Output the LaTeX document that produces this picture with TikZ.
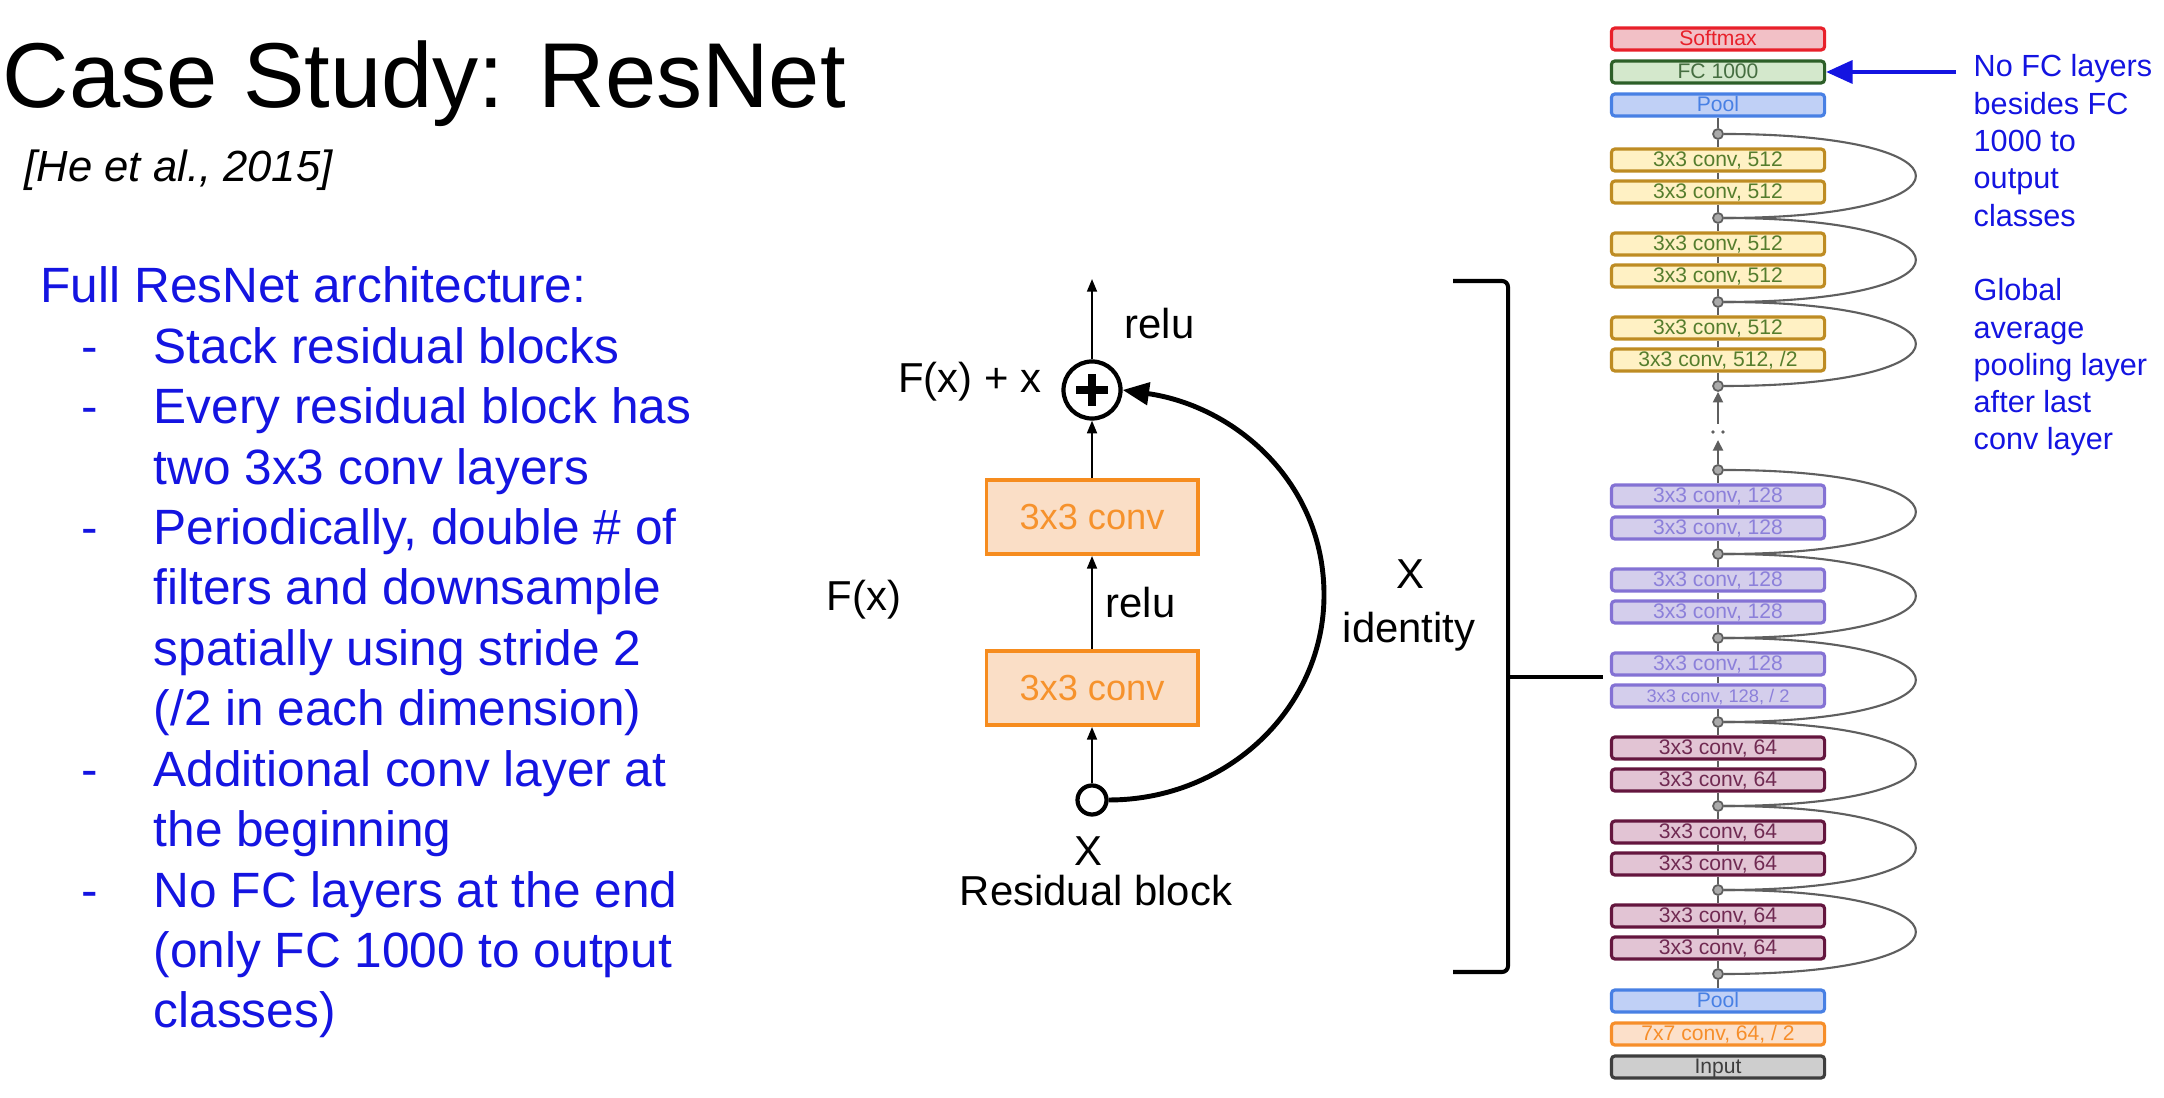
\documentclass[tikz,border=0pt]{standalone}
\usepackage{fontspec}
\setmainfont{Liberation Sans}
\usetikzlibrary{arrows.meta,positioning}

\definecolor{slideblue}{RGB}{20,20,225}
\definecolor{softline}{RGB}{232,32,42}
\definecolor{softfill}{RGB}{242,192,198}
\definecolor{fcline}{RGB}{45,95,40}
\definecolor{fcfill}{RGB}{212,232,204}
\definecolor{fctext}{RGB}{70,110,65}
\definecolor{poolline}{RGB}{72,128,228}
\definecolor{poolfill}{RGB}{192,208,246}
\definecolor{c512line}{RGB}{190,140,35}
\definecolor{c512fill}{RGB}{255,241,196}
\definecolor{c512text}{RGB}{85,125,45}
\definecolor{c128line}{RGB}{132,114,212}
\definecolor{c128fill}{RGB}{212,206,236}
\definecolor{c128text}{RGB}{140,128,218}
\definecolor{c64line}{RGB}{100,22,62}
\definecolor{c64fill}{RGB}{226,196,212}
\definecolor{c64text}{RGB}{112,42,82}
\definecolor{c7line}{RGB}{246,142,42}
\definecolor{c7fill}{RGB}{252,224,202}
\definecolor{inline}{RGB}{62,62,62}
\definecolor{infill}{RGB}{206,206,206}
\definecolor{blockline}{RGB}{246,140,30}
\definecolor{blockfill}{RGB}{250,222,198}
\definecolor{blocktext}{RGB}{246,146,44}
\definecolor{wiregray}{RGB}{95,95,95}
\definecolor{jointfill}{RGB}{170,170,170}

\begin{document}
\begin{tikzpicture}[x=0.01cm, y=0.01cm,
    stackbox/.style={draw, line width=0.9pt, rounded corners=1pt, minimum width=2.13cm, minimum height=0.22cm, inner sep=0pt, text height=1.5mm, text depth=0.2mm, font=\fontsize{6}{7}\selectfont},
    lsoft/.style={stackbox, draw=softline, fill=softfill, text=softline},
    lfc/.style={stackbox, draw=fcline, fill=fcfill, text=fctext},
    lpool/.style={stackbox, draw=poolline, fill=poolfill, text=poolline},
    l512/.style={stackbox, draw=c512line, fill=c512fill, text=c512text},
    l128/.style={stackbox, draw=c128line, fill=c128fill, text=c128text},
    l64/.style={stackbox, draw=c64line, fill=c64fill, text=c64text},
    lseven/.style={stackbox, draw=c7line, fill=c7fill, text=c7line},
    linput/.style={stackbox, draw=inline, fill=infill, text=inline},
    joint/.style={circle, draw=wiregray, fill=jointfill, line width=0.5pt, minimum size=0.1cm, inner sep=0pt},
    wire/.style={wiregray, line width=0.7pt},
    shortcut/.style={wiregray, line width=0.6pt},
    wirearr/.style={wire, -{Triangle[length=3pt,width=2.8pt]}},
    blockconv/.style={draw=blockline, fill=blockfill, text=blocktext, line width=1.1pt, minimum width=2.11cm, minimum height=0.74cm, font=\fontsize{10.3}{12}\selectfont},
    ring/.style={circle, draw, line width=1.2pt, inner sep=0pt},
    arr/.style={-{Triangle[length=3.6pt,width=2.8pt]}, line width=0.6pt},
    idarr/.style={-{Triangle[length=7.5pt,width=6.3pt]}, line width=1.4pt},
    lab/.style={inner sep=0pt, font=\fontsize{11.9}{14}\selectfont},
    body/.style={anchor=base west, inner sep=0pt, text=slideblue, font=\fontsize{14.1}{16}\selectfont},
    note/.style={anchor=base west, inner sep=0pt, text=slideblue, font=\fontsize{8.7}{10}\selectfont}
]
\fill[white] (0,0) rectangle (2164,-1098);
\useasboundingbox (0,0) rectangle (2164,-1098);

% left column
\node[anchor=base west, inner sep=0pt, font=\fontsize{26.2}{30}\selectfont] (title) at (2,-108) {Case Study: ResNet};
\node[anchor=base west, inner sep=0pt, font=\fontsize{12.4}{14}\selectfont\itshape] (cite) at (24,-182) {[He et al., 2015]};
\node[body] (head) at (40,-303) {Full ResNet architecture:};
\foreach \txt [count=\k] in {Stack residual blocks, Every residual block has, two 3x3 conv layers, {Periodically, double \# of}, filters and downsample, spatially using stride 2, {(/2 in each dimension)}, Additional conv layer at, the beginning, No FC layers at the end, {(only FC 1000 to output}, {classes)}}
  \node[body] (item\k) at (153,{-303-60.4*\k}) {\txt};
\foreach \k in {1,2,4,8,10}
  \node[body] (dash\k) at (81,{-303-60.4*\k}) {-};

% residual block
\node[ring, minimum size=0.57cm] (plus) at (1092,-390) {};
\draw[line width=2.1pt] (plus.center) ++(-16,0) -- ++(32,0);
\draw[line width=2.1pt] (plus.center) ++(0,-16) -- ++(0,32);
\node[blockconv] (convb) at (1092,-517) {3x3 conv};
\node[blockconv] (conva) at (1092,-688) {3x3 conv};
\node[ring, minimum size=0.29cm] (xin) at (1092,-800) {};
\coordinate (blockout) at (1092,-279);
\coordinate (idmid) at (1324,-595);

\draw[arr] (xin) -- (conva);
\draw[arr] (conva) -- (convb);
\draw[arr] (convb) -- (plus);
\draw[arr] (plus) -- (blockout);
\draw[idarr] (xin.east) .. controls +(119,0) and +(0,-113) .. (idmid)
    .. controls +(0,113) and +(112,-16) .. (plus.east);

\node[lab, anchor=base west] (relutop) at (1124,-339) {relu};
\node[lab, anchor=base east] (sumlab) at (1042,-393) {F(x) + x};
\node[lab, anchor=base west] (relumid) at (1105,-618) {relu};
\node[lab, anchor=base west] (fxlab) at (826,-611) {F(x)};
\node[lab, anchor=base] (xlab) at (1088,-866) {X};
\node[lab, anchor=base] (blocklab) at (1096,-906) {Residual block};
\node[lab, anchor=base] (xid) at (1410,-589) {X};
\node[lab, anchor=base] (idlab) at (1409,-643) {identity};

% bracket
\draw[line width=1.15pt, rounded corners=0.06cm] (1453,-281) -- (1508,-281) -- (1508,-972) -- (1453,-972);
\draw[line width=1.15pt] (1508,-677) -- (1603,-677);

% full network stack
\node[lsoft] (soft) at (1718,-39) {Softmax};
\node[lfc] (fc) at (1718,-72) {FC 1000};
\node[lpool] (pooltop) at (1718,-105) {Pool};

\foreach \k in {0,...,3}
  \node[joint] (t\k) at (1718,{-134-84*\k}) {};
\draw[wire] (pooltop) -- (t0);
\foreach \g/\low [count=\n] in {0/{3x3 conv, 512}, 1/{3x3 conv, 512}, 2/{3x3 conv, 512, /2}} {
  \node[l512] (tu\g) at (1718,{-160-84*\g}) {3x3 conv, 512};
  \node[l512] (tl\g) at (1718,{-192-84*\g}) {\low};
  \draw[wire] (t\g) -- (tu\g) -- (tl\g) -- (t\n);
  \draw[shortcut] (t\g.east) .. controls +(256,0) and +(256,0) .. (t\n.east);
}

\coordinate (gapup) at (1718,-424);
\coordinate (gaplow) at (1718,-440);
\fill[wiregray] (1713,-432) circle[radius=0.55pt] (1723,-432) circle[radius=0.55pt];

\foreach \k in {0,...,6}
  \node[joint] (b\k) at (1718,{-470-84*\k}) {};
\draw[wirearr] (gapup) -- (t3);
\draw[wirearr] (b0) -- (gaplow);
\foreach \g/\sty/\up/\low [count=\n] in {
    0/l128/{3x3 conv, 128}/{3x3 conv, 128},
    1/l128/{3x3 conv, 128}/{3x3 conv, 128},
    2/l128/{3x3 conv, 128}/{\fontsize{5.2}{6}\selectfont 3x3 conv, 128, / 2},
    3/l64/{3x3 conv, 64}/{3x3 conv, 64},
    4/l64/{3x3 conv, 64}/{3x3 conv, 64},
    5/l64/{3x3 conv, 64}/{3x3 conv, 64}} {
  \node[\sty] (bu\g) at (1718,{-496-84*\g}) {\up};
  \node[\sty] (bl\g) at (1718,{-528-84*\g}) {\low};
  \draw[wire] (b\g) -- (bu\g) -- (bl\g) -- (b\n);
  \draw[shortcut] (b\g.east) .. controls +(256,0) and +(256,0) .. (b\n.east);
}

\node[lpool] (poolbot) at (1718,-1001) {Pool};
\node[lseven] (conv7) at (1718,-1034) {7x7 conv, 64, / 2};
\node[linput] (input) at (1718,-1067) {Input};
\draw[wire] (b6) -- (poolbot);

% notes on the right
\coordinate (fcnote) at (1956,-72);
\draw[slideblue, line width=1.1pt, -{Triangle[length=7.5pt,width=6.5pt]}] (fcnote) -- (fc.east);
\foreach \k/\txt in {0/No FC layers, 1/besides FC, 2/1000 to, 3/output, 4/classes, 6/Global, 7/average, 8/pooling layer, 9/after last, 10/conv layer}
  \node[note] (note\k) at (1973,{-77-37.3*\k}) {\txt};
\end{tikzpicture}
\end{document}
